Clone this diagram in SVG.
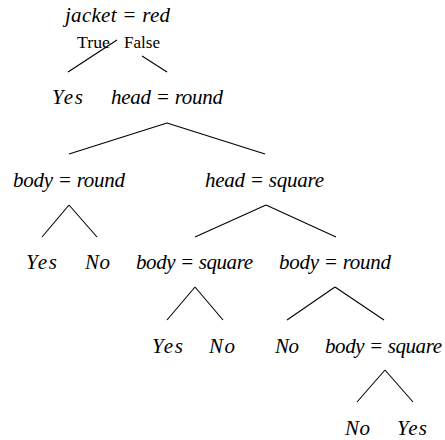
<svg xmlns="http://www.w3.org/2000/svg" width="445" height="440" viewBox="0 0 445 440">
<style>
text{font-family:"Liberation Serif","Times New Roman",serif;fill:#000}
.m{font-style:italic;font-size:21px}
.u{font-size:17px}
.c line{stroke:#000;stroke-width:1.1}
</style>
<rect width="445" height="440" fill="#fff"/>
<g class="c" id="connectors">
<line x1="117" y1="40" x2="68" y2="72"/>
<line x1="142" y1="56" x2="167" y2="72"/>
<line x1="167" y1="123" x2="69" y2="154"/>
<line x1="167" y1="123" x2="265" y2="154"/>
<line x1="69" y1="205" x2="42" y2="237"/>
<line x1="69" y1="205" x2="97" y2="237"/>
<line x1="266" y1="205" x2="195" y2="237"/>
<line x1="266" y1="205" x2="336" y2="237"/>
<line x1="195" y1="287" x2="167" y2="320"/>
<line x1="195" y1="287" x2="223" y2="320"/>
<line x1="335" y1="287" x2="287" y2="320"/>
<line x1="335" y1="287" x2="384" y2="320"/>
<line x1="385" y1="370" x2="357" y2="402"/>
<line x1="385" y1="370" x2="413" y2="402"/>
</g>
<g id="edge-labels">
<text class="u" x="77" y="48" textLength="33" lengthAdjust="spacingAndGlyphs">True</text>
<text class="u" x="124" y="48" textLength="36" lengthAdjust="spacingAndGlyphs">False</text>
</g>
<g id="n-jacket"><text class="m" x="65" y="22" textLength="105" lengthAdjust="spacing">jacket = red</text></g>
<g id="n-yes1"><text class="m" x="52" y="104" textLength="31" lengthAdjust="spacing">Yes</text></g>
<g id="n-head-round"><text class="m" x="111" y="104" textLength="112" lengthAdjust="spacing">head = round</text></g>
<g id="n-body-round1"><text class="m" x="13" y="187" textLength="112" lengthAdjust="spacing">body = round</text></g>
<g id="n-head-square"><text class="m" x="205" y="187" textLength="119" lengthAdjust="spacing">head = square</text></g>
<g id="n-yes2"><text class="m" x="26" y="269" textLength="31" lengthAdjust="spacing">Yes</text></g>
<g id="n-no1"><text class="m" x="85" y="269" textLength="25" lengthAdjust="spacing">No</text></g>
<g id="n-body-square1"><text class="m" x="136" y="269" textLength="117" lengthAdjust="spacing">body = square</text></g>
<g id="n-body-round2"><text class="m" x="279" y="269" textLength="112" lengthAdjust="spacing">body = round</text></g>
<g id="n-yes3"><text class="m" x="152" y="353" textLength="31" lengthAdjust="spacing">Yes</text></g>
<g id="n-no2"><text class="m" x="209" y="353" textLength="26" lengthAdjust="spacing">No</text></g>
<g id="n-no3"><text class="m" x="275" y="353" textLength="24" lengthAdjust="spacing">No</text></g>
<g id="n-body-square2"><text class="m" x="325" y="353" textLength="117" lengthAdjust="spacing">body = square</text></g>
<g id="n-no4"><text class="m" x="345" y="435" textLength="25" lengthAdjust="spacing">No</text></g>
<g id="n-yes4"><text class="m" x="397" y="435" textLength="30" lengthAdjust="spacing">Yes</text></g>
</svg>
